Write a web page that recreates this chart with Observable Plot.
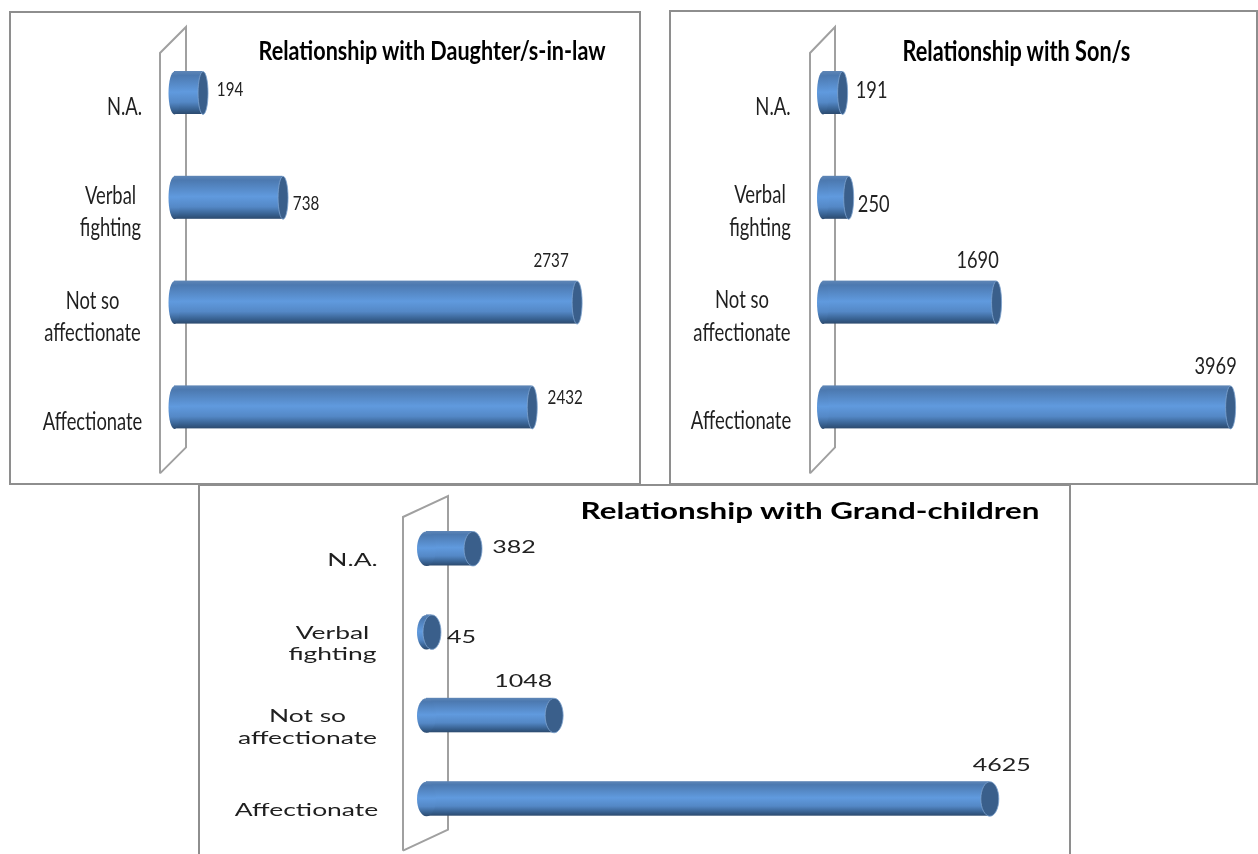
<!DOCTYPE html>
<html>
<head>
<meta charset="utf-8">
<script src="https://cdn.jsdelivr.net/npm/d3@7"></script>
<script src="https://cdn.jsdelivr.net/npm/@observablehq/plot@0.6"></script>
<style>
html,body{margin:0;padding:0;background:#fff;width:1258px;height:854px;overflow:hidden}
.panel{position:absolute;box-sizing:border-box;background:#fff;border:2px solid #8e8e8e}
.panel svg{position:absolute;left:-2px;top:-2px;overflow:visible;background:transparent;filter:blur(.35px);max-width:none !important}
</style>
</head>
<body>
<script>
const categories = ["N.A.", "Verbal fighting", "Not so affectionate", "Affectionate"];
const labelLines = ["N.A.", "Verbal\nfighting", "Not so\naffectionate", "Affectionate"];
const daughterInLaw = [194, 738, 2737, 2432];
const sons = [191, 250, 1690, 3969];
const grandChildren = [382, 45, 1048, 4625];

const face = "Lato,'Open Sans',sans-serif";

const layouts = [
  {title:"Relationship with Daughter/s-in-law", values:daughterInLaw, box:[9,11,632,474], x0:174, k:.1471,
   yTop:71, step:104.8, band:43, capRx:5, leftRx:6, labelSx:.735, valueSx:.76, titleSx:.80, labelSize:25, valueSize:20, titleSize:27, lineHeight:1.28, labelDy:12,
   titleXY:[249,40], labelDx:[-50,-64,-82,-82], valueDx:[27,23,-26,33], valueDy:[-3.5,5.5,-42.5,-9.5],
   wall:[-14,12,-18,-19], rise:26},
  {title:"Relationship with Son/s", values:sons, box:[669,10,589,475], x0:822.5, k:.1027,
   yTop:71, step:104.8, band:43, capRx:5, leftRx:6, labelSx:.74, valueSx:.76, titleSx:.775, labelSize:25, valueSize:24, titleSize:28, lineHeight:1.32, labelDy:11,
   titleXY:[233,42], labelDx:[-50,-63,-81,-82], valueDx:[29,25,-19,-15], valueDy:[-2.5,6.5,-42.5,-41.5],
   wall:[-12.5,12.5,-18,-19], rise:26},
  {title:"Relationship with Grand-children", values:grandChildren, box:[198,484,873,372], x0:426, k:.1218,
   yTop:531, step:83.4, band:34.5, capRx:9, leftRx:9.5, labelSx:1.47, valueSx:1.39, titleSx:1.427, labelSize:18, valueSize:18, titleSize:22, lineHeight:1.2, labelDy:10.5,
   titleXY:[382,27], labelDx:[-74,-94,-119,-120], valueDx:[41,29.5,-31,12], valueDy:[-1.5,5,-34,-34],
   wall:[-23,22,-14,-14], rise:21, open:true}
];

function ellipseSymbol(rx, ry) {
  const c = 0.5523;
  return {draw(p) {
    p.moveTo(-rx, 0);
    p.bezierCurveTo(-rx, -ry*c, -rx*c, -ry, 0, -ry);
    p.bezierCurveTo(rx*c, -ry, rx, -ry*c, rx, 0);
    p.bezierCurveTo(rx, ry*c, rx*c, ry, 0, ry);
    p.bezierCurveTo(-rx*c, ry, -rx, ry*c, -rx, 0);
    p.closePath();
  }};
}

const scaleText = sx => (i, s, v, d, c, next) => {
  const g = next(i, s, v, d, c);
  g.querySelectorAll("text").forEach(t =>
    t.setAttribute("transform", (t.getAttribute("transform") || "") + ` scale(${sx},1)`));
  return g;
};

layouts.forEach((L, n) => {
  const [bx, by, bw, bh] = L.box;
  const rows = categories.map((c, i) => ({category:c, value:L.values[i], lines:labelLines[i]}));
  const gradId = "cyl" + n;
  const outer = (L.step - L.band) / 2;
  const yStart = L.yTop - by - outer;
  const xStart = L.x0 - bx;
  const maxV = d3.max(L.values);

  const defs = () => {
    const d = d3.create("svg:defs");
    const g = d.append("linearGradient").attr("id", gradId).attr("x1",0).attr("x2",0).attr("y1",0).attr("y2",1);
    [[0,"#5f86b6"],[.1,"#4c79b0"],[.48,"#609ade"],[.72,"#5488c6"],[.9,"#37608f"],[1,"#2c4a6e"]]
      .forEach(([o,c]) => g.append("stop").attr("offset",o).attr("stop-color",c));
    return d.node();
  };

  const wall = (index, {x, y}) => {
    const [dl, dr, top, bot] = L.wall;
    const x0 = x(0), yA = y(categories[0]) + top;
    const yB = y(categories[3]) + y.bandwidth() - bot;
    const pts = [[x0+dl, yB+L.rise],[x0+dl, yA],[x0+dr, yA-L.rise],[x0+dr, yB],[x0+dl, yB+L.rise]];
    return d3.create("svg:path").attr("fill","none").attr("stroke","#a0a0a0").attr("stroke-width",2)
      .attr("d", d3.line()(pts)).node();
  };

  const valueMarks = rows.map((r, i) => Plot.text([r], {
    x:"value", y:"category", text:d => String(d.value), dx:L.valueDx[i], dy:L.valueDy[i],
    fontSize:L.valueSize, fontFamily:face, fill:"#222", textAnchor:"middle", render:scaleText(L.valueSx)
  }));
  const labelMarks = rows.map((r, i) => Plot.text([r], {
    x:() => 0, y:"category", text:"lines", dx:L.labelDx[i], dy:L.labelDy,
    fontSize:L.labelSize, fontFamily:face, fill:"#1f1f1f", textAnchor:"middle", lineHeight:L.lineHeight, render:scaleText(L.labelSx)
  }));

  const svg = Plot.plot({
    width:bw, height:bh, margin:0,
    style:{background:"transparent", overflow:"visible"},
    x:{axis:null, domain:[0,maxV], range:[xStart, xStart + maxV*L.k]},
    y:{axis:null, domain:categories, paddingInner:1 - L.band/L.step, paddingOuter:(1 - L.band/L.step)/2,
       range:[yStart, yStart + L.step*4], align:.5, round:false},
    marks:[
      defs,
      wall,
      Plot.barX(rows, {x1:() => 0, x2:"value", y:"category", fill:`url(#${gradId})`}),
      Plot.dot(rows, {x:() => 0, y:"category", symbol:ellipseSymbol(L.leftRx, L.band/2), fill:`url(#${gradId})`, r:3}),
      Plot.dot(rows, {x:"value", y:"category", symbol:ellipseSymbol(L.capRx, L.band/2), fill:"#3a5f8b", stroke:"#7ea3cf", strokeWidth:.8, r:3}),
      ...labelMarks,
      ...valueMarks,
      Plot.text([L.title], {frameAnchor:"top-left", dx:L.titleXY[0], dy:L.titleXY[1], text:d => d, lineAnchor:"middle",
        fontSize:L.titleSize, fontWeight:"bold", fontFamily:face, fill:"#000", textAnchor:"start", render:scaleText(L.titleSx)})
    ]
  });

  const div = document.createElement("div");
  div.className = "panel";
  div.style.cssText = `left:${bx}px;top:${by}px;width:${bw}px;height:${bh}px;` + (L.open ? "border-bottom:none;" : "");
  div.appendChild(svg);
  document.body.appendChild(div);
});
</script>
</body>
</html>
